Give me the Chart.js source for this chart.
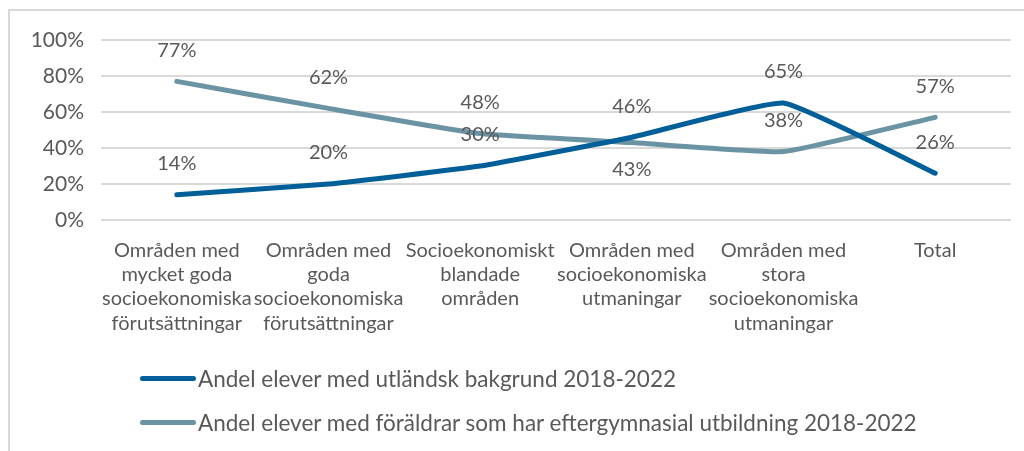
<!DOCTYPE html>
<html>
<head>
<meta charset="utf-8">
<script src="https://cdn.jsdelivr.net/npm/chart.js@4/dist/chart.umd.min.js"></script>
<style>
  body { margin: 0; background: #fff; }
  #wrap { position: relative; width: 1024px; height: 451px; overflow: hidden; }
  #frame { position: absolute; left: 8px; top: 9px; width: 1100px; height: 600px; border: 2px solid #d9d9d9; }
  #chart { position: absolute; left: 0; top: 0; }
  #legend { position: absolute; left: 140px; top: 0; font-family: Lato, sans-serif; font-size: 22.5px; color: #595959; }
  .item { position: absolute; left: 0; display: flex; align-items: center; white-space: nowrap; height: 28px; margin-top: -14px; }
  .swatch { width: 56px; height: 5px; border-radius: 3px; margin-right: 2px; }
</style>
</head>
<body>
<div id="wrap">
  <div id="frame"></div>
  <canvas id="chart" width="1024" height="451"></canvas>
  <div id="legend"></div>
</div>
<script>
const categories = [
  ["Områden med", "mycket goda", "socioekonomiska", "förutsättningar"],
  ["Områden med", "goda", "socioekonomiska", "förutsättningar"],
  ["Socioekonomiskt", "blandade", "områden"],
  ["Områden med", "socioekonomiska", "utmaningar"],
  ["Områden med", "stora", "socioekonomiska", "utmaningar"],
  ["Total"]
];
const foreignBackground = [14, 20, 30, 46, 65, 26];
const parentsHigherEd = [77, 62, 48, 43, 38, 57];
const yTicks = [0, 20, 40, 60, 80, 100];

const seriesNames = [
  "Andel elever med utländsk bakgrund 2018-2022",
  "Andel elever med föräldrar som har eftergymnasial utbildning 2018-2022"
];
const textColor = "#595959";
const font = { family: "Lato, sans-serif", size: 20 };

// draws the % labels next to each point
const pointLabels = {
  id: "pointLabels",
  afterDatasetsDraw(chart) {
    const ctx = chart.ctx;
    ctx.save();
    ctx.font = font.size + "px " + font.family;
    ctx.fillStyle = textColor;
    ctx.textAlign = "center";
    ctx.textBaseline = "middle";
    chart.data.datasets.forEach((ds, i) => {
      const meta = chart.getDatasetMeta(i);
      const below = ds.labelsBelow || [];
      meta.data.forEach((pt, j) => {
        const dy = below.includes(j) ? 27 : -31;
        ctx.fillText(ds.data[j] + "%", pt.x, pt.y + dy);
      });
    });
    ctx.restore();
  }
};

const chart = new Chart("chart", {
  type: "line",
  data: {
    labels: categories,
    datasets: [
      {
        label: seriesNames[0],
        data: foreignBackground,
        borderColor: "#005f99",
        backgroundColor: "#005f99",
        borderWidth: 5,
        tension: 0.12,
        pointRadius: 0,
        borderCapStyle: "round"
      },
      {
        label: seriesNames[1],
        data: parentsHigherEd,
        borderColor: "#6a93a3",
        backgroundColor: "#6a93a3",
        borderWidth: 5,
        tension: 0.12,
        pointRadius: 0,
        borderCapStyle: "round",
        labelsBelow: [3]
      }
    ]
  },
  options: {
    responsive: false,
    animation: false,
    layout: { padding: { top: 40, right: 13, bottom: 101, left: 0 } },
    plugins: {
      legend: { display: false },
      tooltip: { enabled: false }
    },
    scales: {
      x: {
        offset: true,
        grid: { display: false },
        border: { display: false },
        ticks: { color: textColor, font: { ...font, lineHeight: 1.22 }, padding: 10, maxRotation: 0, autoSkip: false },
        afterFit(s) { s.height = 130; }
      },
      y: {
        min: 0,
        max: 100,
        afterBuildTicks(s) { s.ticks = yTicks.map(v => ({ value: v })); },
        grid: { color: "#d9d9d9", lineWidth: 2, drawTicks: false },
        border: { display: false },
        ticks: { color: textColor, font: { ...font, size: 21 }, padding: 17, callback: v => v + "%" },
        afterFit(s) { s.width = 101; }
      }
    }
  },
  plugins: [pointLabels]
});

// legend under the chart, one row per series
const legendTops = [378, 422];
const legend = document.getElementById("legend");
chart.data.datasets.forEach((ds, i) => {
  const item = document.createElement("div");
  item.className = "item";
  item.style.top = legendTops[i] + "px";
  const sw = document.createElement("span");
  sw.className = "swatch";
  sw.style.background = ds.borderColor;
  const txt = document.createElement("span");
  txt.textContent = ds.label;
  item.appendChild(sw);
  item.appendChild(txt);
  legend.appendChild(item);
});
</script>
</body>
</html>
